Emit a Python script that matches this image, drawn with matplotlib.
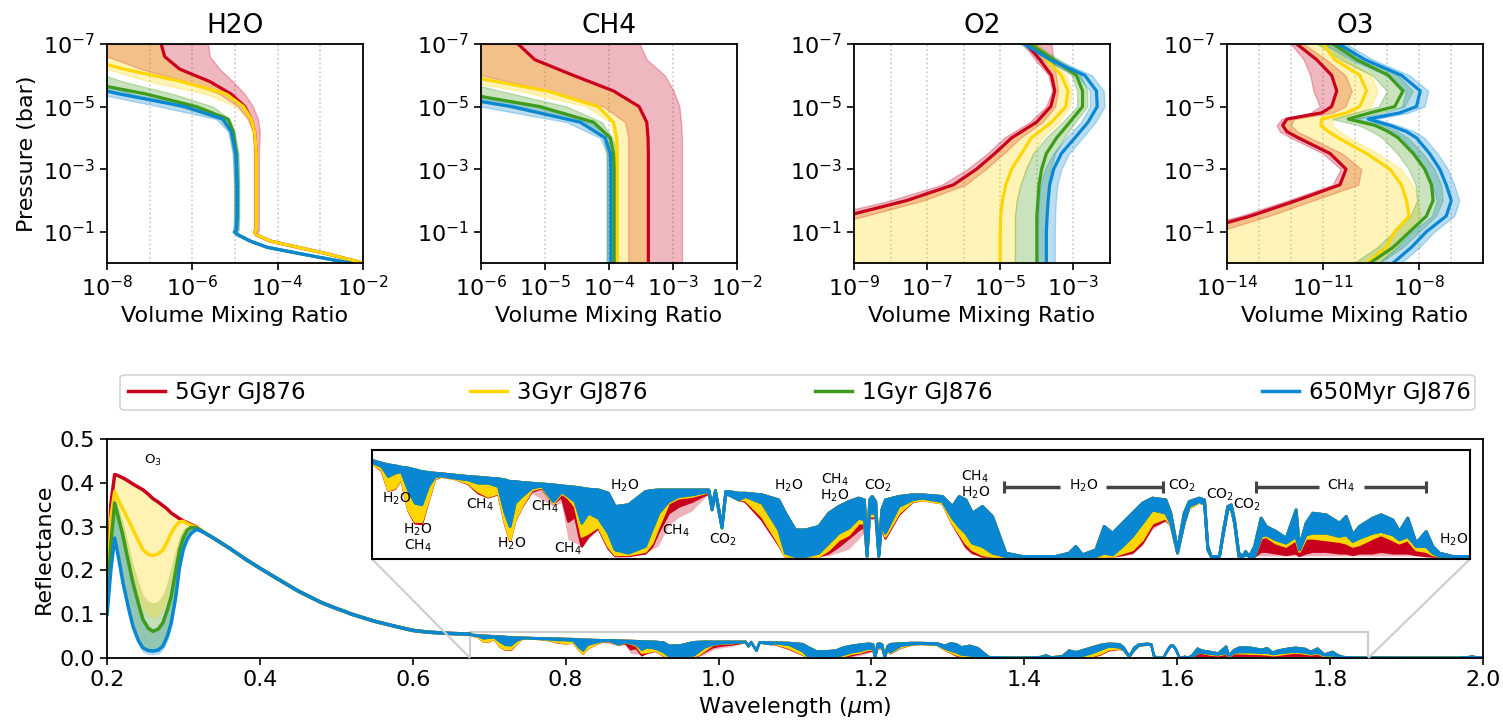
import numpy as np
import matplotlib
matplotlib.use("Agg")
import matplotlib.pyplot as plt
from matplotlib.ticker import NullLocator, FixedLocator, LogLocator
from matplotlib.lines import Line2D
from matplotlib.patches import FancyBboxPatch
from mpl_toolkits.axes_grid1.inset_locator import mark_inset

# ---------------- series ----------------
ages = ["5Gyr GJ876", "3Gyr GJ876", "1Gyr GJ876", "650Myr GJ876"]
colors = ["#C8001E", "#FFD600", "#3E9B1C", "#0A87D2"]

# ---------------- vertical profiles (log10 values) ----------------
h2o_logp = [-7, -6.6, -6.2, -5.8, -5.4, -5.0, -4.6, -4.2, -3.5, -2.5, -1.5, -1.05, -1.0, -0.9, -0.7, -0.5, -0.3, 0.0]
h2o_med = [
    [-6.73, -6.65, -6.30, -5.59, -5.09, -4.77, -4.62, -4.54, -4.50, -4.50, -4.50, -4.50, -4.54, -4.50, -4.17, -3.52, -2.86, -2.0],
    [-9.5, -8.7, -7.61, -6.26, -5.2, -4.8, -4.62, -4.54, -4.50, -4.50, -4.50, -4.50, -4.54, -4.50, -4.17, -3.52, -2.86, -2.0],
    [-10, -10, -9.5, -8.6, -7.08, -5.91, -5.16, -5.04, -4.97, -4.95, -4.95, -4.97, -5.01, -4.93, -4.64, -4.24, -3.48, -2.31],
    [-10, -10, -10, -8.95, -7.70, -6.18, -5.28, -5.09, -4.98, -4.95, -4.95, -4.97, -5.01, -4.93, -4.64, -4.24, -3.48, -2.31],
]
h2o_lo = [
    [-9.5, -8.0, -7.2, -6.14, -5.36, -4.93, -4.70, -4.58, -4.55, -4.55, -4.55, -4.55, -4.58, -4.54, -4.20, -3.56, -2.90, -2.05],
    [-10, -9.0, -8.0, -7.0, -5.67, -4.97, -4.70, -4.58, -4.55, -4.55, -4.55, -4.55, -4.58, -4.54, -4.20, -3.56, -2.90, -2.05],
    [-10, -10, -10, -9.5, -7.5, -6.3, -5.36, -5.13, -5.05, -5.02, -5.02, -5.03, -5.06, -4.98, -4.69, -4.29, -3.53, -2.36],
    [-10, -10, -10, -9.5, -8.2, -6.77, -5.44, -5.16, -5.05, -5.02, -5.02, -5.03, -5.06, -4.98, -4.69, -4.29, -3.53, -2.36],
]
h2o_hi = [
    [-5.63, -5.59, -5.36, -5.05, -4.77, -4.58, -4.46, -4.42, -4.44, -4.44, -4.44, -4.44, -4.48, -4.44, -4.12, -3.47, -2.80, -1.95],
    h2o_med[0],
    [-10, -9.5, -8.5, -7.63, -6.45, -5.52, -5.13, -5.01, -4.92, -4.90, -4.90, -4.92, -4.96, -4.88, -4.59, -4.19, -3.43, -2.26],
    [-10, -10, -9.5, -8.3, -7.4, -5.83, -5.2, -5.05, -4.93, -4.91, -4.91, -4.92, -4.96, -4.88, -4.59, -4.19, -3.43, -2.26],
]

ch4_logp = [-7, -6.5, -6, -5.5, -5, -4.5, -4, -3.5, -3, -2, -1, 0]
ch4_med = [
    [-5.42, -5.16, -4.56, -3.93, -3.53, -3.41, -3.39, -3.385, -3.385, -3.385, -3.385, -3.385],
    [-7.0, -6.7, -6.3, -4.97, -4.17, -3.93, -3.88, -3.87, -3.87, -3.87, -3.87, -3.87],
    [-7.5, -7.3, -7.0, -6.5, -5.08, -4.24, -3.98, -3.93, -3.92, -3.92, -3.92, -3.92],
    [-8, -7.8, -7.5, -7.0, -5.52, -4.45, -4.06, -3.98, -3.97, -3.97, -3.97, -3.97],
]
ch4_lo = [
    [-6.6, -6.3, -6.0, -4.92, -4.09, -3.75, -3.70, -3.70, -3.70, -3.70, -3.70, -3.70],
    [-7.5, -7.2, -6.8, -5.39, -4.35, -3.98, -3.92, -3.91, -3.91, -3.91, -3.91, -3.91],
    [-8, -8, -7.5, -7.0, -5.6, -4.45, -4.09, -4.04, -4.04, -4.04, -4.04, -4.04],
    [-8.5, -8.3, -8, -7.5, -6.0, -4.66, -4.14, -4.03, -4.03, -4.03, -4.03, -4.03],
]
ch4_hi = [
    [-3.52, -3.41, -3.13, -2.99, -2.90, -2.875, -2.86, -2.86, -2.86, -2.86, -2.86, -2.86],
    ch4_med[0],
    [-7.5, -7.2, -6.7, -5.70, -4.66, -4.11, -3.95, -3.87, -3.87, -3.87, -3.87, -3.87],
    [-7.8, -7.5, -7.2, -6.6, -5.13, -4.30, -3.98, -3.93, -3.93, -3.93, -3.93, -3.93],
]

o2_logp = [-7, -6.5, -6, -5.5, -5, -4.5, -4, -3.5, -3, -2.5, -2, -1.5, -1, -0.5, 0]
o2_med = [
    [-4.28, -3.92, -3.60, -3.51, -3.62, -4.01, -4.69, -5.15, -5.65, -6.28, -7.55, -9.24, -11, -11, -11],
    [-4.15, -3.74, -3.33, -3.15, -3.21, -3.6, -4.15, -4.42, -4.69, -4.85, -4.94, -4.99, -5.0, -5.0, -5.0],
    [-4.19, -3.55, -2.92, -2.75, -2.75, -3.1, -3.46, -3.74, -3.87, -3.94, -3.97, -4.0, -4.0, -4.0, -4.0],
    [-4.33, -3.65, -2.69, -2.37, -2.35, -2.6, -2.96, -3.33, -3.54, -3.65, -3.69, -3.72, -3.74, -3.74, -3.74],
]
o2_lo = [
    [-4.37, -4.05, -3.68, -3.58, -3.75, -4.2, -4.9, -5.35, -5.9, -6.6, -8.0, -9.8, -11, -11, -11],
    o2_med[0],
    [-4.35, -3.7, -3.05, -2.9, -2.9, -3.3, -3.75, -4.1, -4.3, -4.45, -4.55, -4.6, -4.6, -4.6, -4.6],
    [-4.45, -3.85, -2.9, -2.55, -2.55, -2.8, -3.2, -3.55, -3.78, -3.9, -3.94, -3.97, -3.99, -3.99, -3.99],
]
o2_hi = [
    [-3.60, -3.55, -3.48, -3.42, -3.50, -3.85, -4.45, -4.9, -5.4, -5.95, -7.1, -8.7, -10.5, -11, -11],
    [-4.0, -3.6, -3.2, -3.05, -3.1, -3.4, -3.85, -4.1, -4.3, -4.45, -4.55, -4.6, -4.6, -4.6, -4.6],
    [-4.05, -3.4, -2.8, -2.62, -2.62, -2.95, -3.25, -3.5, -3.62, -3.68, -3.72, -3.74, -3.75, -3.75, -3.75],
    [-4.2, -3.45, -2.5, -2.17, -2.15, -2.4, -2.75, -3.12, -3.33, -3.44, -3.48, -3.5, -3.51, -3.51, -3.51],
]

o3_logp = [-7, -6.5, -6, -5.5, -5, -4.8, -4.6, -4.4, -4.2, -4, -3.5, -3, -2.5, -2, -1.5, -1, -0.5, 0]
o3_med = [
    [-11.82, -11.2, -10.73, -10.57, -10.73, -11.04, -12.13, -12.26, -12.13, -11.77, -10.78, -10.28, -10.47, -11.82, -13.27, -15, -16, -16],
    [-10.99, -10.63, -9.85, -9.64, -9.85, -10.26, -11.04, -11.07, -10.83, -10.52, -9.64, -8.91, -8.55, -8.39, -8.31, -8.76, -9.02, -9.64],
    [-10.68, -9.95, -8.96, -8.5, -8.76, -9.53, -10.21, -9.38, -8.96, -8.65, -8.18, -7.82, -7.61, -7.56, -7.77, -8.29, -8.81, -9.53],
    [-10.52, -9.69, -8.55, -7.96, -8.08, -8.6, -9.59, -8.91, -8.39, -8.08, -7.67, -7.35, -7.15, -6.99, -7.15, -7.77, -8.24, -8.81],
]
o3_lo = [
    [-12.0, -11.6, -11.4, -11.3, -11.1, -11.4, -12.3, -12.45, -12.35, -12.0, -11.0, -10.45, -10.7, -12.1, -13.6, -15.5, -16, -16],
    o3_med[0],
    [-11.18, -10.45, -9.46, -9.0, -9.26, -10.03, -10.71, -9.88, -9.46, -9.15, -8.68, -8.32, -8.11, -8.06, -8.27, -8.79, -9.31, -10.03],
    [-10.97, -10.14, -9.0, -8.41, -8.53, -9.05, -10.04, -9.36, -8.84, -8.53, -8.12, -7.8, -7.6, -7.44, -7.6, -8.22, -8.69, -9.26],
]
o3_hi = [
    [-11.6, -10.9, -10.3, -10.1, -10.3, -10.7, -11.9, -12.0, -11.8, -11.4, -10.4, -9.8, -9.9, -11.3, -12.7, -14.3, -16, -16],
    [-10.64, -10.28, -9.5, -9.29, -9.5, -9.91, -10.69, -10.72, -10.48, -10.17, -9.29, -8.56, -8.2, -8.04, -7.96, -8.41, -8.67, -9.29],
    [-10.38, -9.65, -8.66, -8.2, -8.46, -9.23, -9.91, -9.08, -8.66, -8.35, -7.88, -7.52, -7.31, -7.26, -7.47, -7.99, -8.51, -9.23],
    [-10.27, -9.44, -8.3, -7.71, -7.83, -8.35, -9.34, -8.66, -8.14, -7.83, -7.42, -7.1, -6.9, -6.74, -6.9, -7.52, -7.99, -8.56],
]

# ---------------- reflectance spectrum ----------------
wl_uv = [0.200, 0.205, 0.210, 0.215, 0.221, 0.228, 0.234, 0.241, 0.247, 0.254, 0.260, 0.267,
         0.273, 0.279, 0.284, 0.290, 0.295, 0.300, 0.305, 0.310, 0.317, 0.325]
uv_5gyr = [0.13, 0.35, 0.419, 0.416, 0.411, 0.404, 0.397, 0.390, 0.384, 0.374, 0.364, 0.356,
           0.348, 0.340, 0.331, 0.324, 0.318, 0.313, 0.309, 0.305, 0.299, 0.289]
uv_3gyr = [0.12, 0.32, 0.38, 0.36, 0.339, 0.315, 0.293, 0.268, 0.247, 0.237, 0.234, 0.238,
           0.247, 0.265, 0.285, 0.302, 0.311, 0.312, 0.307, 0.303, 0.298, 0.289]
uv_1gyr = [0.11, 0.26, 0.354, 0.32, 0.278, 0.22, 0.171, 0.125, 0.088, 0.068, 0.061, 0.066,
           0.080, 0.11, 0.141, 0.20, 0.247, 0.275, 0.292, 0.298, 0.297, 0.289]
uv_650myr = [0.098, 0.20, 0.274, 0.23, 0.171, 0.115, 0.072, 0.040, 0.023, 0.017, 0.016, 0.018,
             0.027, 0.050, 0.080, 0.14, 0.209, 0.25, 0.272, 0.285, 0.294, 0.288]
uv_band_1gyr_hi = [0.11, 0.29, 0.37, 0.345, 0.31, 0.26, 0.215, 0.175, 0.145, 0.13, 0.126, 0.13,
                   0.145, 0.175, 0.21, 0.25, 0.28, 0.295, 0.30, 0.301, 0.298, 0.289]
uv_band_3gyr_lo = [0.11, 0.27, 0.36, 0.33, 0.29, 0.235, 0.185, 0.14, 0.11, 0.095, 0.091, 0.095,
                   0.11, 0.14, 0.18, 0.23, 0.265, 0.285, 0.295, 0.298, 0.297, 0.289]
uv_band_650myr_lo = [0.095, 0.19, 0.265, 0.22, 0.16, 0.10, 0.06, 0.03, 0.013, 0.008, 0.007, 0.009,
                     0.017, 0.038, 0.068, 0.128, 0.197, 0.24, 0.265, 0.28, 0.29, 0.287]

wl_vis = [0.34, 0.36, 0.38, 0.40, 0.42, 0.45, 0.48, 0.50, 0.51, 0.52, 0.55, 0.58, 0.59, 0.60,
          0.62, 0.63, 0.64, 0.65, 0.675]
refl_vis = [0.273, 0.251, 0.227, 0.205, 0.184, 0.153, 0.127, 0.113, 0.107, 0.100, 0.084, 0.071,
            0.067, 0.063, 0.059, 0.058, 0.057, 0.056, 0.0545]

wl_nir = [0.675, 0.685, 0.692, 0.699, 0.706, 0.7135, 0.7207, 0.7278, 0.735, 0.742, 0.749, 0.7635,
          0.7777, 0.7884, 0.7991, 0.8098, 0.817, 0.8223, 0.8277, 0.8348, 0.8455, 0.8562, 0.8687,
          0.8776, 0.8847, 0.8919, 0.899, 0.9061, 0.9168, 0.9275, 0.9347, 0.9489, 0.9671, 0.9742,
          0.9814, 0.992, 1.0028, 1.017, 1.0349, 1.0384, 1.042, 1.049, 1.053, 1.0563, 1.067, 1.074,
          1.092, 1.1098, 1.117, 1.1276, 1.1383, 1.1526, 1.1633, 1.174, 1.1847, 1.1954, 1.2015,
          1.2043, 1.207, 1.2097, 1.2135, 1.2168, 1.22, 1.2239, 1.2382, 1.2525, 1.2632, 1.285,
          1.2957, 1.3028, 1.31, 1.3171, 1.3278, 1.3385, 1.3528, 1.3706, 1.3884, 1.4063, 1.4205,
          1.4277, 1.4348, 1.4491, 1.458, 1.467, 1.4776, 1.4883, 1.499, 1.5097, 1.524, 1.5293,
          1.5365, 1.5436, 1.549, 1.5597, 1.5654, 1.5689, 1.5725, 1.5814, 1.5857, 1.5903, 1.5939,
          1.5975, 1.6021, 1.6064, 1.6092, 1.6135, 1.6189, 1.626, 1.6313, 1.642, 1.6527, 1.6634,
          1.667, 1.6741, 1.6813, 1.6955, 1.7098, 1.717, 1.7241, 1.7312, 1.7455, 1.7544, 1.7669,
          1.774, 1.7829, 1.7919, 1.8026, 1.8097, 1.8168, 1.8311, 1.8489, 1.90, 1.97, 1.985, 2.0]
nir_top = [54.5, 53.0, 52.1, 51.6, 50.8, 50.3, 49.4, 48.4, 47.9, 47.5, 47.2, 46.4,
           45.7, 45.3, 44.8, 44.4, 43.8, 42.9, 42.9, 42.4, 42.0, 41.6, 41.1,
           40.5, 40.2, 39.8, 39.3, 38.7, 38.3, 36.5, 29.2, 30.1, 37.4, 38.0,
           38.3, 38.3, 38.3, 38.3, 38.3, 29.2, 38.0, 18.2, 37.4, 37.4, 36.5, 36.5,
           35.6, 32.8, 25.5, 16.3, 16.3, 18.2, 25.5, 29.2, 31.9, 33.8, 32.8,
           2.6, 32.8, 34.7, 31.9, 2.6, 27.3, 32.8, 34.7, 35.6, 35.6, 34.7,
           29.2, 34.7, 32.8, 25.5, 29.2, 23.7, 3.5, 1.7, 1.7, 1.7, 3.5,
           7.2, 2.6, 5.3, 18.2, 14.5, 20.0, 25.5, 31.0, 33.8, 32.8, 25.5,
           5.3, 25.5, 31.9, 33.8, 32.8, 7.2, 1.7, 1.7, 16.3, 29.2, 30.1,
           21.8, 3.5, 1.7, 4.4, 1.7, 7.2, 22.8, 18.2, 15.4, 11.7, 27.3,
           7.2, 20.0, 25.5, 24.6, 20.0, 23.7, 13.6, 18.2, 22.8, 24.6, 21.8,
           15.4, 22.8, 9.0, 15.4, 7.2, 3.5, 1.7, 1.7, 1.5, 1.5, 4.0, 1.5]
nir_lo_650myr = [53.4, 51.2, 45.7, 47.5, 48.4, 38.3, 31.0, 30.1, 40.2, 45.7, 46.0, 44.8,
                 43.8, 42.0, 42.0, 40.2, 25.5, 18.2, 31.0, 34.7, 39.3, 40.5, 31.9,
                 37.4, 34.7, 31.9, 20.0, 25.5, 22.8, 14.5, 5.3, 3.5, 7.2, 16.3,
                 25.5, 31.9, 34.7, 35.6, 37.4, 27.3, 36.5, 17.3, 35.6, 35.6, 32.8, 34.7,
                 31.0, 16.3, 3.5, 1.7, 1.7, 3.5, 9.0, 14.5, 17.3, 22.8, 21.8,
                 1.7, 25.5, 25.5, 25.5, 1.7, 20.0, 14.5, 29.2, 32.8, 33.8, 31.9,
                 22.8, 18.2, 14.5, 9.0, 7.2, 3.5, 1.7, 1.7, 1.7, 1.7, 1.7,
                 1.7, 1.7, 1.7, 3.5, 2.6, 7.2, 12.7, 20.0, 27.3, 25.5, 20.0,
                 3.5, 20.0, 29.2, 31.9, 30.6, 5.3, 1.7, 1.7, 14.5, 27.3, 28.3,
                 20.0, 1.7, 1.7, 2.6, 1.7, 1.7, 12.7, 13.6, 10.8, 9.0, 12.7,
                 5.3, 13.6, 14.5, 14.5, 12.7, 13.6, 9.9, 11.7, 14.5, 15.4, 13.6,
                 10.8, 12.7, 7.2, 7.2, 3.5, 1.7, 1.7, 1.7, 1.5, 1.5, 4.0, 1.5]
nir_lo_1gyr = nir_lo_650myr
nir_lo_3gyr = [53.0, 49.4, 38.3, 39.3, 44.8, 27.3, 20.9, 20.9, 32.8, 44.8, 45.7, 44.4,
               42.0, 37.4, 34.7, 36.5, 20.0, 10.8, 21.8, 29.2, 38.3, 39.8, 31.0,
               36.5, 33.8, 29.2, 12.7, 14.5, 18.2, 7.2, 2.6, 2.6, 4.4, 9.0,
               18.2, 31.0, 33.8, 34.7, 37.1, 27.3, 36.5, 17.3, 35.6, 35.6, 32.8, 32.8,
               23.7, 9.0, 1.7, 1.7, 1.7, 1.7, 5.3, 10.8, 13.6, 20.0, 20.0,
               1.7, 24.6, 23.7, 24.6, 1.7, 19.6, 12.7, 25.5, 31.9, 32.8, 31.0,
               20.0, 14.5, 9.0, 5.3, 2.6, 1.7, 1.7, 1.7, 1.7, 1.7, 1.7,
               1.7, 1.7, 1.7, 1.7, 1.7, 3.5, 5.3, 10.8, 20.0, 22.8, 19.1,
               3.5, 20.0, 28.3, 31.4, 30.6, 5.3, 1.7, 1.7, 14.5, 27.3, 28.3,
               20.0, 1.7, 1.7, 2.6, 1.7, 1.7, 11.7, 12.7, 9.0, 7.2, 10.8,
               4.4, 11.7, 11.7, 10.8, 9.9, 9.0, 7.2, 8.1, 11.7, 13.6, 10.8,
               9.0, 10.8, 5.3, 4.4, 2.6, 1.7, 1.7, 1.7, 1.5, 1.5, 4.0, 1.5]
nir_lo_5gyr = [53.0, 49.0, 38.0, 38.9, 44.4, 27.0, 20.0, 19.6, 32.5, 44.4, 45.7, 44.4,
               41.6, 36.5, 34.3, 36.1, 19.6, 10.5, 21.5, 28.8, 37.4, 39.3, 31.0,
               34.7, 20.9, 23.7, 7.2, 12.7, 17.3, 6.2, 2.0, 2.0, 3.5, 7.2,
               15.4, 25.5, 29.2, 31.9, 36.5, 27.3, 36.5, 17.3, 35.6, 35.6, 32.8, 31.9,
               21.8, 8.1, 1.7, 1.7, 1.7, 1.7, 3.5, 7.2, 11.7, 16.3, 18.2,
               1.7, 23.7, 22.8, 23.7, 1.7, 19.1, 11.7, 24.6, 31.6, 32.8, 31.0,
               19.6, 13.6, 7.2, 3.8, 1.7, 1.7, 1.7, 1.7, 1.7, 1.7, 1.7,
               1.7, 1.7, 1.7, 1.7, 1.7, 2.6, 3.8, 9.0, 18.2, 21.8, 19.1,
               3.5, 20.0, 28.3, 31.4, 30.6, 5.3, 1.7, 1.7, 14.5, 27.3, 28.3,
               20.0, 1.7, 1.7, 2.6, 1.7, 1.7, 4.4, 4.4, 3.5, 2.6, 3.5,
               2.0, 3.5, 4.4, 4.4, 3.5, 3.5, 2.6, 3.5, 3.5, 4.4, 3.5,
               3.5, 3.5, 2.6, 2.0, 1.7, 1.7, 1.7, 1.7, 1.5, 1.5, 4.0, 1.5]
nir_band_5gyr_lo = [53.0, 49.0, 38.0, 38.9, 44.4, 27.0, 20.0, 19.6, 32.5, 44.4, 45.7, 44.4,
                    41.6, 36.5, 34.3, 36.1, 19.6, 10.5, 21.5, 28.8, 36.5, 32.8, 29.2,
                    31.0, 10.8, 9.0, 7.2, 10.8, 16.3, 5.3, 1.7, 1.7, 2.6, 5.3,
                    7.2, 18.2, 22.8, 26.4, 35.6, 27.3, 36.5, 17.3, 35.6, 35.6, 32.8, 31.9,
                    21.8, 8.1, 1.7, 1.7, 1.7, 1.7, 1.7, 3.5, 5.3, 10.8, 14.5,
                    1.7, 22.8, 21.8, 22.8, 1.7, 18.2, 10.8, 24.6, 31.6, 32.8, 31.0,
                    19.6, 12.7, 5.3, 2.6, 1.7, 1.7, 1.7, 1.7, 1.7, 1.7, 1.7,
                    1.7, 1.7, 1.7, 1.7, 1.7, 1.7, 2.6, 7.2, 16.3, 20.9, 19.1,
                    3.5, 20.0, 28.3, 31.4, 30.6, 5.3, 1.7, 1.7, 14.5, 27.3, 28.3,
                    20.0, 1.7, 1.7, 2.6, 1.7, 1.7, 1.7, 1.7, 1.7, 1.7, 1.7,
                    1.7, 1.7, 1.7, 1.7, 1.7, 1.7, 1.7, 1.7, 1.7, 1.7, 1.7,
                    1.7, 1.7, 1.7, 1.7, 1.7, 1.7, 1.7, 1.7, 1.5, 1.5, 4.0, 1.5]

# ---------------- inset annotations ----------------
inset_labels = [r"H$_2$O", "H$_2$O\nCH$_4$", r"CH$_4$", r"H$_2$O", r"CH$_4$", r"CH$_4$", r"H$_2$O",
                r"CH$_4$", r"CO$_2$", r"H$_2$O", "CH$_4$\nH$_2$O", r"CO$_2$", "CH$_4$\nH$_2$O",
                r"H$_2$O", r"CO$_2$", r"CO$_2$", r"CO$_2$", r"CH$_4$", r"H$_2$O"]
inset_label_wl = [0.701, 0.7242, 0.7902, 0.824, 0.8605, 0.8847, 0.9454,
                  0.9999, 1.0509, 1.1205, 1.1705, 1.2161, 1.3206,
                  1.4366, 1.5418, 1.5821, 1.6117, 1.712, 1.8329]
inset_label_val = [0.0329, 0.0118, 0.0301, 0.0086, 0.0286, 0.0057, 0.0402,
                   0.0154, 0.0105, 0.0402, 0.0393, 0.0402, 0.0409,
                   0.0402, 0.0402, 0.0351, 0.0301, 0.0402, 0.0103]
bar_segments = [(1.351, 1.4112, "left"), (1.4604, 1.5211, "right"),
                (1.621, 1.6883, "left"), (1.7365, 1.8029, "right")]
bar_val = 0.0396

# ---------------- figure ----------------
W, H = 1503, 726
fig = plt.figure(figsize=(W / 100, H / 100), dpi=100)
TICK_FS = 16
LABEL_FS = 16


def fx(px):
    return px / W


def fy(py):
    return 1 - py / H


def profile_panel(left_px, logp, med, lo, hi, xlim, xticks, grid_dec, title, ylabel=False, minor=False):
    ax = fig.add_axes([fx(left_px), fy(263), fx(256), 219 / H])
    p = 10.0 ** np.array(logp)
    for c, l, h in zip(colors, lo, hi):
        ax.fill_betweenx(p, 10.0 ** np.array(l), 10.0 ** np.array(h), color=c, alpha=0.28, lw=1.0)
    for c, m in zip(colors, med):
        ax.plot(10.0 ** np.array(m), p, color=c, lw=2.3)
    ax.set_xscale("log")
    ax.set_yscale("log")
    ax.set_xlim(xlim)
    ax.set_ylim(1.0, 1e-7)
    for d in grid_dec:
        ax.axvline(10.0 ** d, color="#c8c8c8", ls=":", lw=1.2, zorder=0)
    ax.xaxis.set_major_locator(FixedLocator(xticks))
    if minor:
        ax.xaxis.set_minor_locator(LogLocator(base=10, subs=np.arange(2, 10)))
    else:
        ax.xaxis.set_minor_locator(NullLocator())
    ax.yaxis.set_major_locator(FixedLocator([1e-7, 1e-5, 1e-3, 1e-1]))
    ax.yaxis.set_minor_locator(NullLocator())
    ax.tick_params(labelsize=TICK_FS, width=1.2, length=5)
    ax.tick_params(which="minor", width=1.0, length=3)
    ax.set_title(title, fontsize=19, pad=8)
    ax.set_xlabel("Volume Mixing Ratio", fontsize=LABEL_FS)
    if ylabel:
        ax.set_ylabel("Pressure (bar)", fontsize=LABEL_FS)
    for s in ax.spines.values():
        s.set_linewidth(1.3)
    return ax


profile_panel(107, h2o_logp, h2o_med, h2o_lo, h2o_hi, (1e-8, 1e-2), [1e-8, 1e-6, 1e-4, 1e-2],
              [-7, -6, -5, -4, -3], "H2O", ylabel=True)
profile_panel(481, ch4_logp, ch4_med, ch4_lo, ch4_hi, (1e-6, 1e-2), [1e-6, 1e-5, 1e-4, 1e-3, 1e-2],
              [-5, -4, -3], "CH4", minor=True)
profile_panel(854, o2_logp, o2_med, o2_lo, o2_hi, (1e-9, 1e-2), [1e-9, 1e-7, 1e-5, 1e-3],
              [-8, -7, -6, -5, -4, -3], "O2")
profile_panel(1227, o3_logp, o3_med, o3_lo, o3_hi, (1e-14, 1e-6), [1e-14, 1e-11, 1e-8],
              [-13, -12, -11, -10, -9, -8, -7], "O3")

# ---------------- bottom spectrum ----------------
ax = fig.add_axes([fx(107), fy(658), fx(1376), 219 / H])

wl_nir_a = np.array(wl_nir)
top_a = np.array(nir_top) / 1000.0
nir_lows = [np.array(nir_lo_5gyr) / 1000.0, np.array(nir_lo_3gyr) / 1000.0,
            np.array(nir_lo_1gyr) / 1000.0, np.array(nir_lo_650myr) / 1000.0]
pink_a = np.array(nir_band_5gyr_lo) / 1000.0


def draw_nir(a, lw):
    a.fill_between(wl_nir_a, pink_a, nir_lows[0], color=colors[0], alpha=0.3, lw=0)
    for c, lo in zip(colors, nir_lows):
        a.fill_between(wl_nir_a, lo, top_a, color=c, lw=lw, edgecolor=c)


# UV bands
ax.fill_between(wl_uv, uv_band_650myr_lo, uv_1gyr, color=colors[3], alpha=0.3, lw=0)
ax.fill_between(wl_uv, uv_650myr, uv_band_1gyr_hi, color=colors[2], alpha=0.3, lw=0)
ax.fill_between(wl_uv, uv_band_3gyr_lo, uv_5gyr, color=colors[1], alpha=0.3, lw=0)

uv_series = [uv_5gyr, uv_3gyr, uv_1gyr, uv_650myr]
for c, s in zip(colors, uv_series):
    ax.plot(list(wl_uv) + list(wl_vis), list(s) + list(refl_vis), color=c, lw=2.5,
            solid_capstyle="round")
draw_nir(ax, 1.6)

ax.set_xlim(0.2, 2.0)
ax.set_ylim(0, 0.5)
ax.set_xticks(np.round(np.arange(0.2, 2.01, 0.2), 1))
ax.set_yticks(np.round(np.arange(0.0, 0.51, 0.1), 1))
ax.tick_params(labelsize=TICK_FS, width=1.2, length=5)
ax.set_xlabel(r"Wavelength ($\mu$m)", fontsize=LABEL_FS)
ax.set_ylabel("Reflectance", fontsize=LABEL_FS)
for s in ax.spines.values():
    s.set_linewidth(1.3)
ax.text(0.26, 0.45, r"O$_3$", fontsize=9.5, ha="center", va="center")

# inset
axin = fig.add_axes([fx(372), fy(559), fx(1098), 109 / H])
draw_nir(axin, 2.0)
axin.set_xlim(0.675, 1.85)
axin.set_ylim(0, 0.06)
axin.set_xticks([])
axin.set_yticks([])
for s in axin.spines.values():
    s.set_linewidth(1.5)
for t, x, y in zip(inset_labels, inset_label_wl, inset_label_val):
    axin.text(x, y, t, fontsize=10, ha="center", va="center", linespacing=0.95)
for x0, x1, side in bar_segments:
    axin.plot([x0, x1], [bar_val, bar_val], color="#444444", lw=2.5, solid_capstyle="butt")
    xc = x0 if side == "left" else x1
    axin.plot([xc], [bar_val], marker="|", ms=9, mew=2.2, color="#444444")

mark_inset(ax, axin, loc1=3, loc2=4, fc="none", ec="0.8", lw=1.5)

# legend: a framed strip with the four entries placed along it
frame = FancyBboxPatch((fx(120), fy(410)), fx(1355), 35 / H,
                       boxstyle="round,pad=0,rounding_size=0.004",
                       transform=fig.transFigure, fc="white", ec="0.8", lw=1.0)
fig.patches.append(frame)
legend_x_px = [128, 470, 815, 1262]
for c, lab, xp in zip(colors, ages, legend_x_px):
    fig.legend([Line2D([], [], color=c, lw=2.5)], [lab], loc="center left",
               bbox_to_anchor=(fx(xp), fy(392.5)), frameon=False, borderaxespad=0,
               borderpad=0, handlelength=1.6, handletextpad=0.45, fontsize=16.5)

fig.savefig("out.png", dpi=100)
